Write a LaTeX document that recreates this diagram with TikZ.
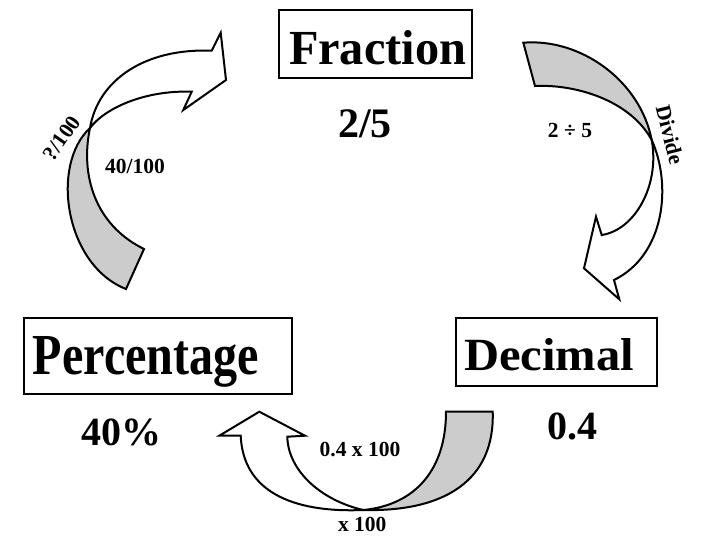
\documentclass[tikz,border=0pt]{standalone}
\usepackage{fontspec}
\setmainfont{Liberation Serif}
\usepackage{graphicx}
\definecolor{backgray}{RGB}{204,204,204}
\begin{document}
\begin{tikzpicture}[x=1pt,y=-1pt,
  bandline/.style={draw=black,line width=2pt,line join=miter},
  bandback/.style={bandline,fill=backgray},
  bandfront/.style={bandline,fill=white},
  titlebox/.style={draw=black,line width=2pt,inner sep=0pt,anchor=north west},
  valtext/.style={font=\bfseries\fontsize{40}{40}\selectfont,anchor=base,inner sep=0pt},
  labtext/.style={font=\bfseries\fontsize{21.5}{21.5}\selectfont,inner sep=0pt}]
\useasboundingbox (0,0) rectangle (715,550);

% title boxes
\node[titlebox,text height=54pt,text depth=14pt] (fraction) at (278,9)
  {\makebox[193pt][l]{\hspace{10pt}\resizebox{177pt}{34pt}{\bfseries Fraction}}};
\node[titlebox,text height=56pt,text depth=20pt] (percentage) at (23,317)
  {\makebox[268pt][l]{\hspace{9pt}\resizebox{226pt}{38pt}{\bfseries Percentage}}};
\node[titlebox,text height=52pt,text depth=16pt] (decimal) at (455,317)
  {\makebox[201pt][l]{\hspace{8pt}\resizebox{170pt}{32pt}{\bfseries Decimal}}};

% values
\node[valtext,font=\bfseries\fontsize{42}{42}\selectfont] (v25) at (365,137) {2/5};
\node[valtext] (v40) at (121,445) {40\%};
\node[valtext] (v04) at (572.5,439) {0.4};

% top-left curved arrow (Percentage -> Fraction)
\path[bandback] (126,289) .. controls (65,265) and (50,165) .. (90,128)
  .. controls (80,175) and (95,225) .. (144,249) -- cycle;
\path[bandfront] (90,128) .. controls (98,80) and (145,48) .. (211.7,50.7)
  -- (220.7,32.7) -- (226,80) -- (183.3,110) -- (191.7,91.7)
  .. controls (145,90) and (105,108) .. (90,128) -- cycle;

% top-right curved arrow (Fraction -> Decimal)
\path[bandback] (523.3,42.7) .. controls (580,38) and (640,80) .. (651.7,140)
  .. controls (630,100) and (575,84) .. (535,86) -- cycle;
\path[bandfront] (651.7,140) .. controls (672,185) and (665,255) .. (614,280)
  -- (619.3,299.3) -- (584,268.3) -- (596,216.7) -- (601.7,235)
  .. controls (635,230) and (660,185) .. (651.7,140) -- cycle;

% bottom curved arrow (Decimal -> Percentage)
\path[bandback] (492.7,411.7) .. controls (495,480) and (445,512) .. (363.3,510)
  .. controls (415,505) and (446,470) .. (446,411.7) -- cycle;
\path[bandfront] (363.3,510) .. controls (290,513) and (243,490) .. (240.7,435.7)
  -- (219.3,435.7) -- (259.3,411.7) -- (305,435.7) -- (287.3,436.7)
  .. controls (288,470) and (320,500) .. (363.3,510) -- cycle;

% labels
\node[labtext,rotate=55] (q100) at (61.7,138.3) {?/100};
\node[labtext] (f40) at (135,166.7) {40/100};
\node[labtext] (div) at (570,130) {2 ÷ 5};
\node[labtext,rotate=-76] (divide) at (670,135) {Divide};
\node[labtext] (mul) at (360,449.3) {0.4 x 100};
\node[labtext] (x100) at (362.3,524) {x 100};
\end{tikzpicture}
\end{document}
